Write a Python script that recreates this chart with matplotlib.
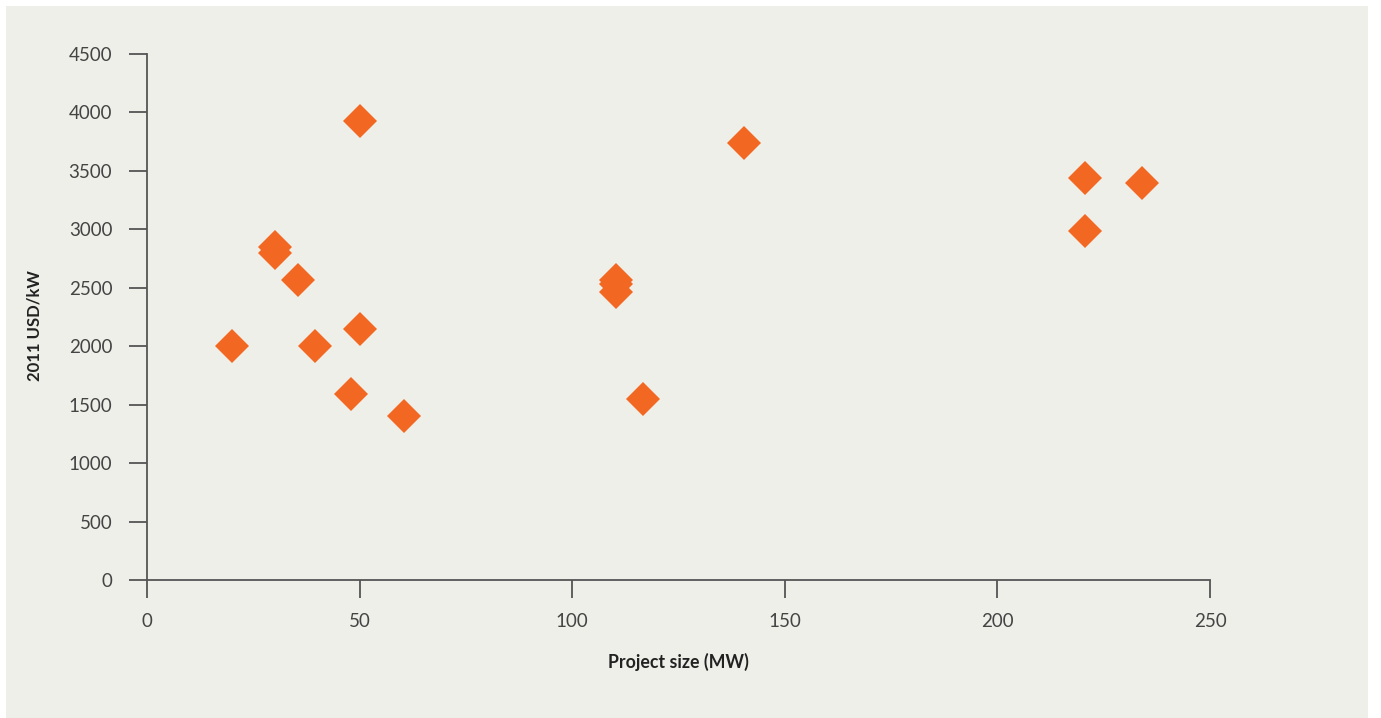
import matplotlib
matplotlib.use("Agg")
import matplotlib.pyplot as plt
from matplotlib.patches import Rectangle

# Data
project_size_mw = [20, 30.2, 30.2, 35.4, 39.6, 50.0, 47.9, 60.4, 50.1,
                   110.3, 110.3, 110.3, 116.6, 140.4, 220.6, 220.6, 234.1]
cost_usd_kw = [2000, 2850, 2800, 2570, 2000, 2150, 1590, 1400, 3930,
               2570, 2530, 2460, 1550, 3740, 3440, 2990, 3400]
x_ticks = [0, 50, 100, 150, 200, 250]
y_ticks = [0, 500, 1000, 1500, 2000, 2500, 3000, 3500, 4000, 4500]

W, H = 1381, 718
fig = plt.figure(figsize=(W / 100, H / 100), dpi=100)
fig.patch.set_facecolor("white")
bg = "#efefea"
fig.patches.append(Rectangle((6 / W, 0), (1368 - 6) / W, (H - 6) / H,
                             transform=fig.transFigure, facecolor=bg,
                             edgecolor="none", zorder=-10))

ax = fig.add_axes([147 / W, 1 - 580 / H, (1210 - 147) / W, (580 - 54) / H])
ax.set_facecolor("none")
ax.plot(project_size_mw, cost_usd_kw, linestyle="none", marker="D",
        markersize=17.8, color="#f26822", markeredgewidth=0, clip_on=False)

ax.set_xlim(0, 250)
ax.set_ylim(0, 4500)
ax.set_xticks(x_ticks)
ax.set_yticks(y_ticks)
for s in ["top", "right"]:
    ax.spines[s].set_visible(False)
for s in ["left", "bottom"]:
    ax.spines[s].set_color("#555555")
    ax.spines[s].set_linewidth(1.3)
ax.tick_params(direction="out", length=13, width=1.3, color="#555555",
               labelsize=13.5, labelcolor="#444444", pad=12)
ax.tick_params(axis="x", pad=11)
for lab in ax.get_xticklabels() + ax.get_yticklabels():
    lab.set_family("Lato")

ax.set_xlabel("Project size (MW)", fontsize=12.8, fontweight="bold",
              family="Lato", color="#222222", labelpad=16)
ax.set_ylabel("2011 USD/kW", fontsize=12, fontweight="bold",
              family="Lato", color="#222222")
ax.yaxis.set_label_coords(-0.098, 0.483)

fig.savefig("out.png", dpi=100, facecolor=fig.get_facecolor())
